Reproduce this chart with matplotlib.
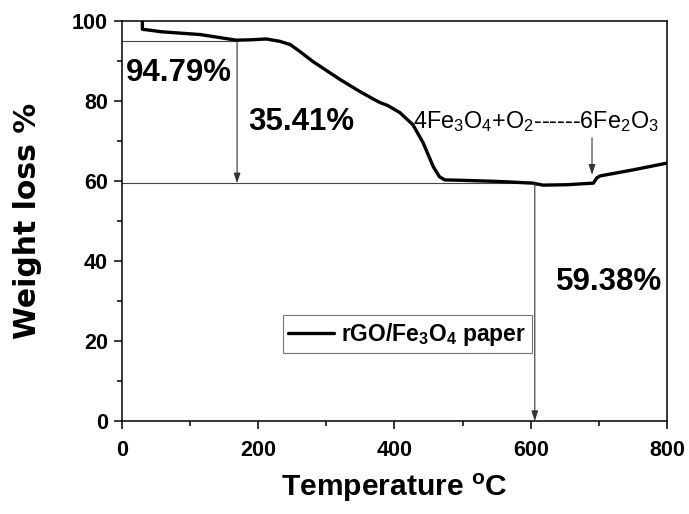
import matplotlib
matplotlib.use("Agg")
import matplotlib.pyplot as plt
from matplotlib.ticker import MultipleLocator

# ---------------- DATA ----------------
# TGA trace of rGO/Fe3O4 paper (temperature in C, remaining weight in %)
temperature = [30, 30, 36, 58, 115, 168, 190, 212, 232, 247, 261, 280, 320, 349,
               370, 379, 390, 408, 427, 442, 457, 466, 474, 500, 555, 603, 618,
               653, 692, 697, 702, 750, 800]
weight = [100.0, 97.8, 97.7, 97.2, 96.5, 95.1, 95.2, 95.4, 94.8, 94.0, 92.3, 89.8,
          85.3, 82.3, 80.3, 79.5, 78.8, 77.0, 74.0, 69.5, 63.5, 61.0, 60.2, 60.1,
          59.8, 59.4, 58.9, 59.0, 59.4, 60.7, 61.2, 62.7, 64.4]

first_level = 94.79      # weight before the main oxidation step
second_level = 59.38     # plateau after the step
first_arrow_t = 169
second_arrow_t = 606
reaction_t = 690

series_label = r"rGO/Fe$\mathregular{_3}$O$\mathregular{_4}$ paper"
reaction_label = (r"4Fe$\mathregular{_3}$O$\mathregular{_4}$+O$\mathregular{_2}$"
                  r"------6Fe$\mathregular{_2}$O$\mathregular{_3}$")

# ---------------- STYLE ----------------
plt.rcParams["font.family"] = ["Liberation Sans", "DejaVu Sans"]
plt.rcParams["mathtext.fontset"] = "custom"
plt.rcParams["mathtext.rm"] = "Liberation Sans"

fig = plt.figure(figsize=(6.89, 5.14), dpi=100)
ax = fig.add_axes([0.177, 0.181, 0.791, 0.779])

ax.plot(temperature, weight, color="black", lw=2.4, label=series_label,
        solid_joinstyle="round", solid_capstyle="round", zorder=3)

# guide lines and arrows for the weight-loss steps
guide = dict(color="#444444", lw=0.8)
arrow = dict(arrowstyle="-|>,head_length=0.6,head_width=0.2", color="#333333",
             lw=0.8, mutation_scale=10, shrinkA=0, shrinkB=0)
ax.plot([0, first_arrow_t], [first_level, first_level], **guide, zorder=2)
ax.plot([0, second_arrow_t], [second_level, second_level], **guide, zorder=2)
ax.annotate("", xy=(first_arrow_t, second_level), xytext=(first_arrow_t, first_level),
            arrowprops=arrow)
ax.annotate("", xy=(second_arrow_t, 0), xytext=(second_arrow_t, second_level),
            arrowprops=arrow)
ax.annotate("", xy=(reaction_t, 61.5), xytext=(reaction_t, 70.7), arrowprops=arrow)

big = dict(fontsize=22.5, fontweight="bold", va="center", ha="left")
ax.text(6, 86.9, f"{first_level:.2f}%", **big)
ax.text(185, 74.6, f"{first_level - second_level:.2f}%", **big)
ax.text(637, 34.7, f"{second_level:.2f}%", **big)
ax.text(427, 73.1, reaction_label, fontsize=16.8, fontweight="normal",
        va="baseline", ha="left")

# ---------------- AXES ----------------
ax.set_xlim(0, 800)
ax.set_ylim(0, 100)
ax.xaxis.set_major_locator(MultipleLocator(200))
ax.xaxis.set_minor_locator(MultipleLocator(100))
ax.yaxis.set_major_locator(MultipleLocator(20))
ax.yaxis.set_minor_locator(MultipleLocator(10))
ax.tick_params(which="both", direction="out", width=1.1, top=False, right=False)
ax.tick_params(which="major", length=6)
ax.tick_params(which="minor", length=3.5)
ax.tick_params(axis="x", which="major", pad=7.5)
ax.tick_params(axis="y", which="major", pad=4)
for lab in ax.get_xticklabels() + ax.get_yticklabels():
    lab.set_fontsize(15.5)
    lab.set_fontweight("bold")
for sp in ax.spines.values():
    sp.set_linewidth(1.1)

ax.set_xlabel(r"Temperature $\mathregular{^o}$C", fontsize=21.6, fontweight="bold")
ax.xaxis.set_label_coords(0.5, -0.127)
ax.set_ylabel("Weight loss %", fontsize=21.5, fontweight="bold",
              family=["DejaVu Sans"])
ax.yaxis.set_label_coords(-0.147, 0.5)

leg = ax.legend(loc="upper left", bbox_to_anchor=(0.295, 0.265), borderaxespad=0,
                fancybox=False, frameon=True, handlelength=2.0, handletextpad=0.3,
                borderpad=0.25, prop=dict(size=16.5, weight="bold"))
leg.get_frame().set_edgecolor("#555555")
leg.get_frame().set_linewidth(0.8)

fig.savefig("out.png", dpi=100)
